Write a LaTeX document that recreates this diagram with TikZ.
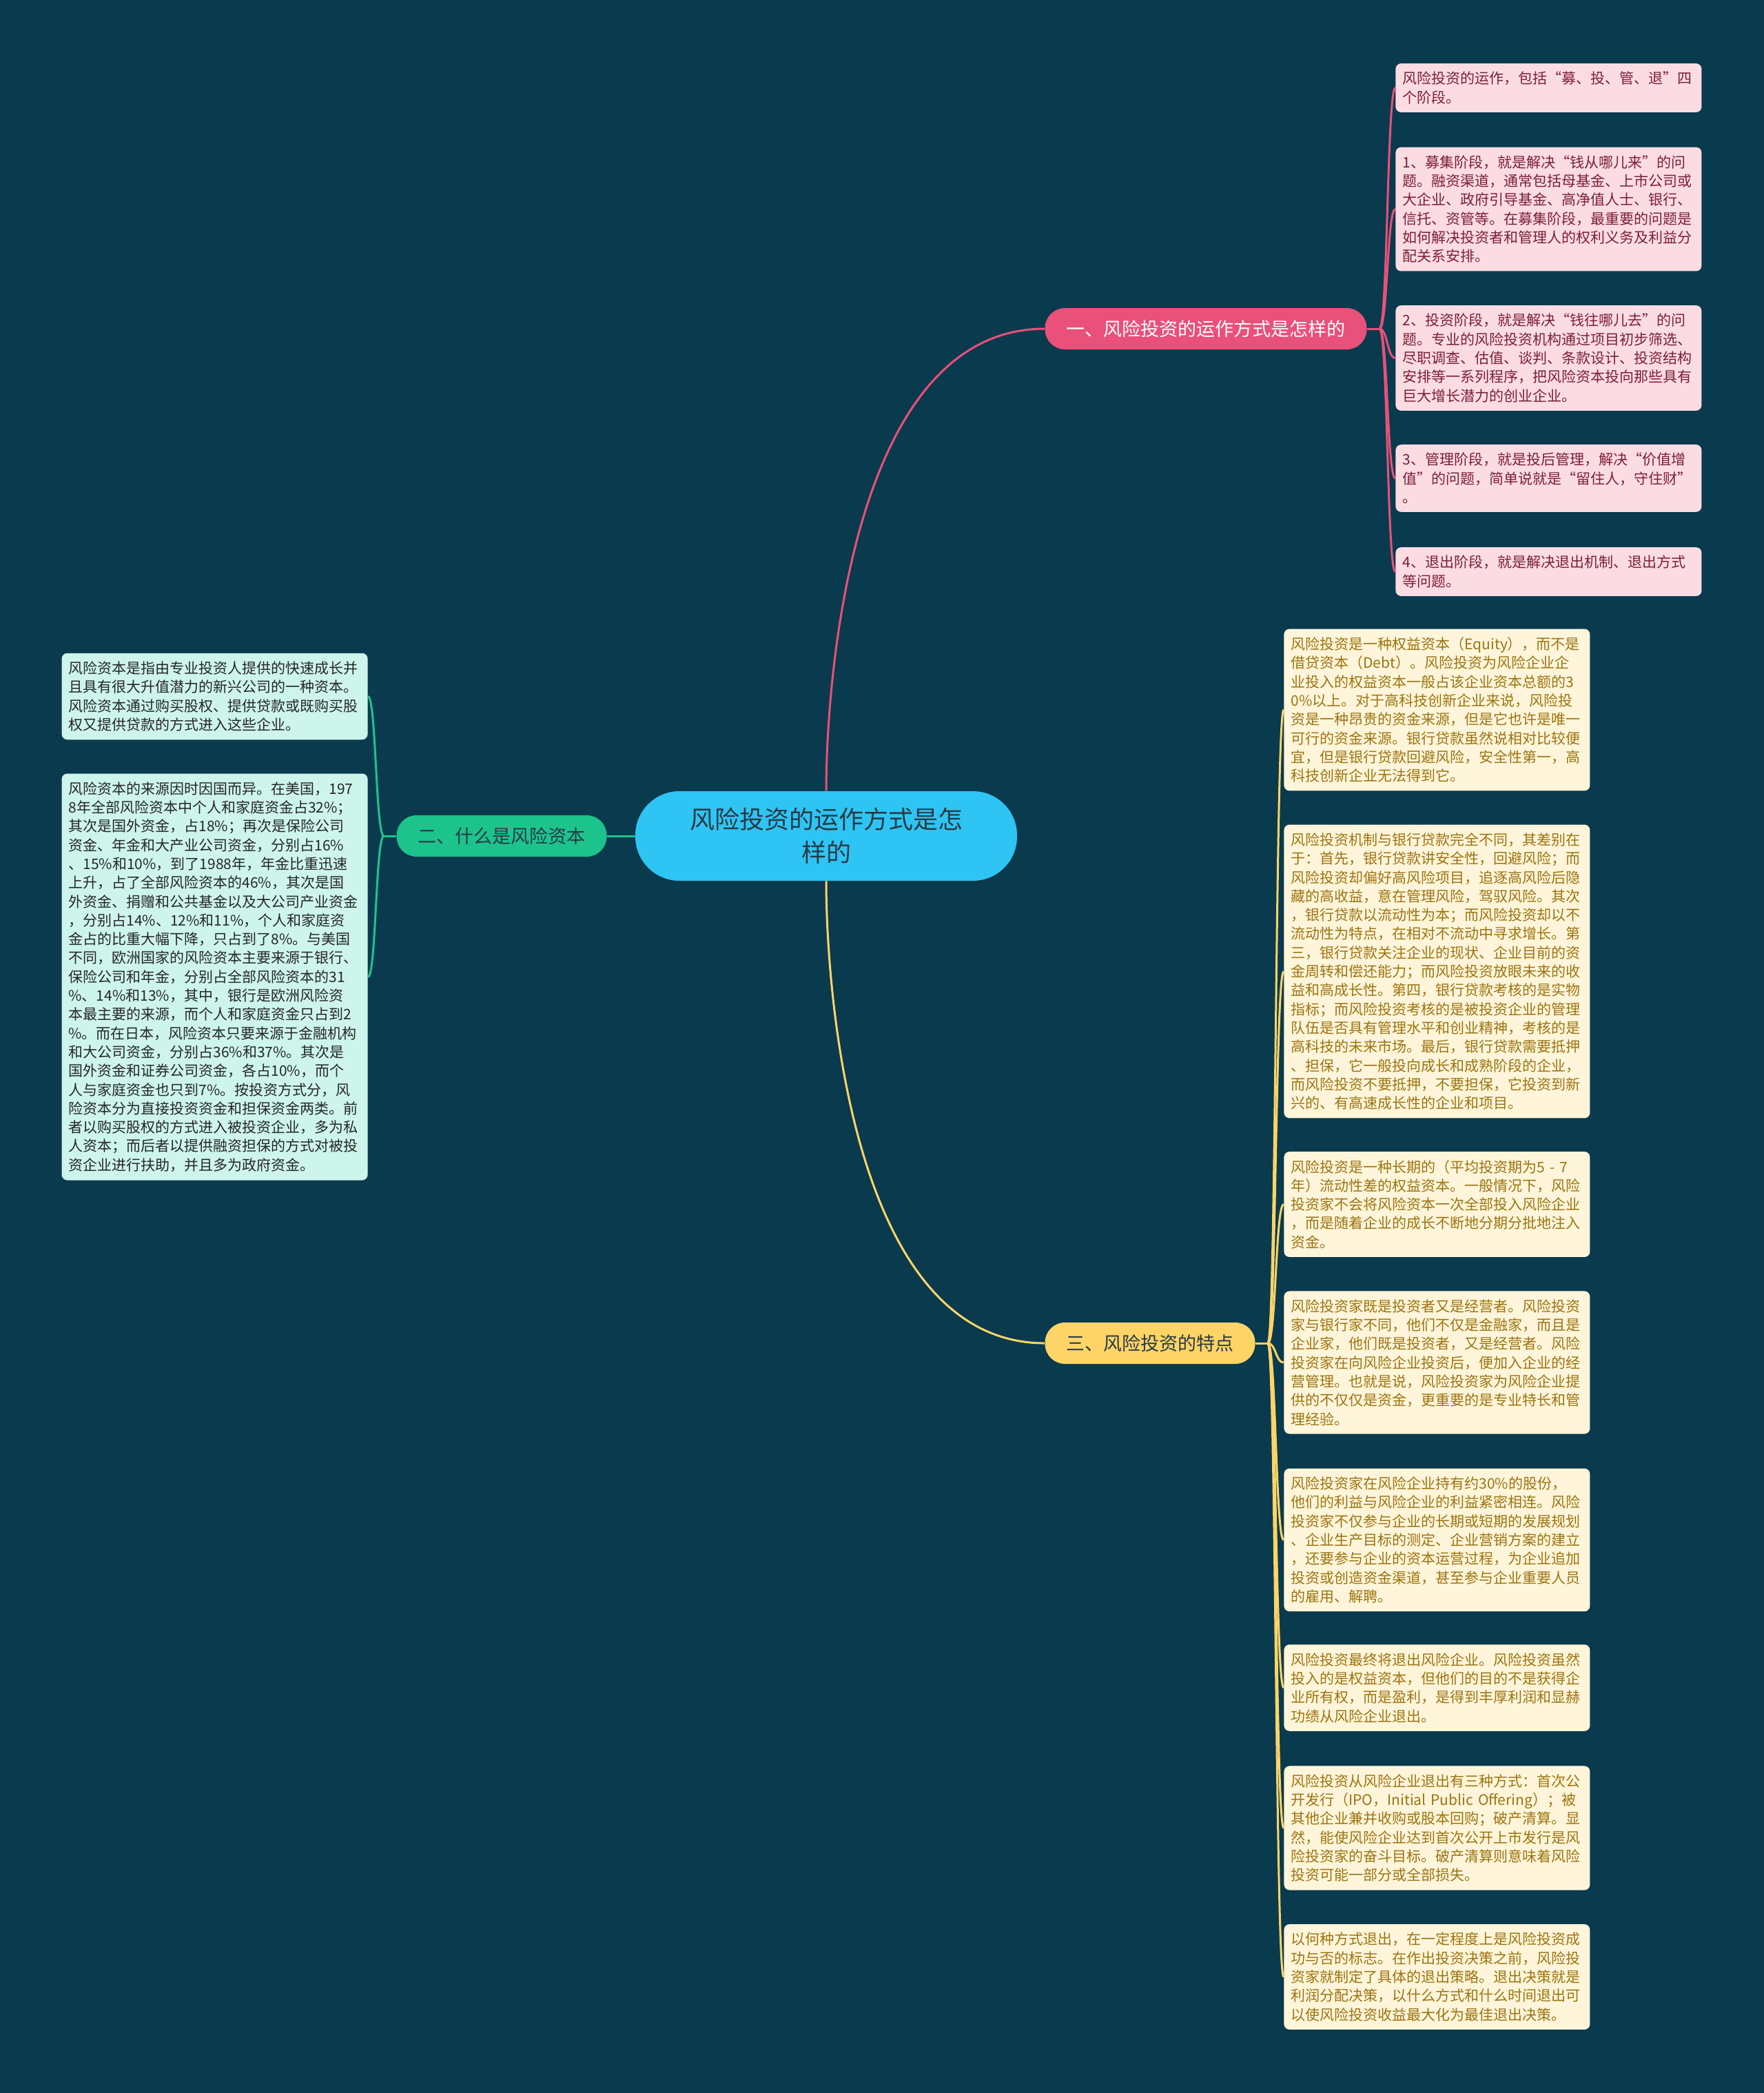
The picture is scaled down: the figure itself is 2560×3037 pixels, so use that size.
\documentclass[tikz,border=0pt]{standalone}
\usepackage{fontspec}
\setmainfont{Noto Sans CJK SC}

\definecolor{bgcol}{HTML}{0A3A4D}
\definecolor{rootblue}{HTML}{2EC4F4}
\definecolor{roottext}{HTML}{263A45}
\definecolor{pinkline}{HTML}{E9507A}
\definecolor{pinkbox}{HTML}{FCDCE3}
\definecolor{pinktext}{HTML}{7B1E3A}
\definecolor{greenline}{HTML}{1CC48C}
\definecolor{greenbox}{HTML}{CDF5EC}
\definecolor{greentext}{HTML}{262626}
\definecolor{yellowline}{HTML}{FFD466}
\definecolor{yellowbox}{HTML}{FFF5DA}
\definecolor{yellowtext}{HTML}{9C7410}

\begin{document}
\begin{tikzpicture}[
  x=0.5pt, y=-0.5pt,
  root/.style={rectangle, rounded corners=32pt, fill=rootblue, text=roottext,
               minimum width=277pt, minimum height=65pt, align=center,
               font=\fontsize{18pt}{24pt}\selectfont},
  topic/.style={rectangle, rounded corners=14.5pt, minimum height=30pt,
                inner xsep=15.5pt, font=\fontsize{13.5pt}{16pt}\selectfont},
  leaf/.style={rectangle, rounded corners=4pt, text width=212pt, inner xsep=5pt,
               inner ysep=6pt, align=left,
               font=\fontsize{10.5pt}{13.65pt}\selectfont},
  pinkleaf/.style={leaf, fill=pinkbox, text=pinktext, anchor=west},
  greenleaf/.style={leaf, fill=greenbox, text=greentext, anchor=east},
  yellowleaf/.style={leaf, fill=yellowbox, text=yellowtext, anchor=west},
  link/.style={line width=1.5pt},
]

\useasboundingbox (0,0) rectangle (2560,3037);
\fill[bgcol] (0,0) rectangle (2560,3037);

% ---- 中心与分支 ----
\node[root] (root) at (1199,1213) {风险投资的运作方式是怎\\样的};

\node[topic, fill=pinkline, text=white]       (b1) at (1750,477)  {一、风险投资的运作方式是怎样的};
\node[topic, fill=greenline, text=roottext]   (b2) at (728,1213)  {二、什么是风险资本};
\node[topic, fill=yellowline, text=roottext]  (b3) at (1669,1949) {三、风险投资的特点};

% ---- 一 ----
\node[pinkleaf] (p1) at (2025,127.5) {风险投资的运作，包括“募、投、管、退”四\\个阶段。};
\node[pinkleaf] (p2) at (2025,303.5) {1、募集阶段，就是解决“钱从哪儿来”的问\\题。融资渠道，通常包括母基金、上市公司或\\大企业、政府引导基金、高净值人士、银行、\\信托、资管等。在募集阶段，最重要的问题是\\如何解决投资者和管理人的权利义务及利益分\\配关系安排。};
\node[pinkleaf] (p3) at (2025,519.5) {2、投资阶段，就是解决“钱往哪儿去”的问\\题。专业的风险投资机构通过项目初步筛选、\\尽职调查、估值、谈判、条款设计、投资结构\\安排等一系列程序，把风险资本投向那些具有\\巨大增长潜力的创业企业。};
\node[pinkleaf] (p4) at (2025,694)   {3、管理阶段，就是投后管理，解决“价值增\\值”的问题，简单说就是“留住人，守住财”\\。};
\node[pinkleaf] (p5) at (2025,829.5) {4、退出阶段，就是解决退出机制、退出方式\\等问题。};

% ---- 二 ----
\node[greenleaf] (g1) at (534,1010.5) {风险资本是指由专业投资人提供的快速成长并\\且具有很大升值潜力的新兴公司的一种资本。\\风险资本通过购买股权、提供贷款或既购买股\\权又提供贷款的方式进入这些企业。};
\node[greenleaf] (g2) at (534,1417.5) {风险资本的来源因时因国而异。在美国，197\\8年全部风险资本中个人和家庭资金占32\%；\\其次是国外资金，占18\%；再次是保险公司\\资金、年金和大产业公司资金，分别占16\%\\、15\%和10\%，到了1988年，年金比重迅速\\上升，占了全部风险资本的46\%，其次是国\\外资金、捐赠和公共基金以及大公司产业资金\\，分别占14\%、12\%和11\%，个人和家庭资\\金占的比重大幅下降，只占到了8\%。与美国\\不同，欧洲国家的风险资本主要来源于银行、\\保险公司和年金，分别占全部风险资本的31\\\%、14\%和13\%，其中，银行是欧洲风险资\\本最主要的来源，而个人和家庭资金只占到2\\\%。而在日本，风险资本只要来源于金融机构\\和大公司资金，分别占36\%和37\%。其次是\\国外资金和证券公司资金，各占10\%，而个\\人与家庭资金也只到7\%。按投资方式分，风\\险资本分为直接投资资金和担保资金两类。前\\者以购买股权的方式进入被投资企业，多为私\\人资本；而后者以提供融资担保的方式对被投\\资企业进行扶助，并且多为政府资金。};

% ---- 三 ----
\node[yellowleaf] (y1) at (1863,1030)   {风险投资是一种权益资本（Equity），而不是\\借贷资本（Debt）。风险投资为风险企业企\\业投入的权益资本一般占该企业资本总额的3\\0\%以上。对于高科技创新企业来说，风险投\\资是一种昂贵的资金来源，但是它也许是唯一\\可行的资金来源。银行贷款虽然说相对比较便\\宜，但是银行贷款回避风险，安全性第一，高\\科技创新企业无法得到它。};
\node[yellowleaf] (y2) at (1863,1409.5) {风险投资机制与银行贷款完全不同，其差别在\\于：首先，银行贷款讲安全性，回避风险；而\\风险投资却偏好高风险项目，追逐高风险后隐\\藏的高收益，意在管理风险，驾驭风险。其次\\，银行贷款以流动性为本；而风险投资却以不\\流动性为特点，在相对不流动中寻求增长。第\\三，银行贷款关注企业的现状、企业目前的资\\金周转和偿还能力；而风险投资放眼未来的收\\益和高成长性。第四，银行贷款考核的是实物\\指标；而风险投资考核的是被投资企业的管理\\队伍是否具有管理水平和创业精神，考核的是\\高科技的未来市场。最后，银行贷款需要抵押\\、担保，它一般投向成长和成熟阶段的企业，\\而风险投资不要抵押，不要担保，它投资到新\\兴的、有高速成长性的企业和项目。};
\node[yellowleaf] (y3) at (1863,1747.5) {风险投资是一种长期的（平均投资期为5 - 7\\年）流动性差的权益资本。一般情况下，风险\\投资家不会将风险资本一次全部投入风险企业\\，而是随着企业的成长不断地分期分批地注入\\资金。};
\node[yellowleaf] (y4) at (1863,1977)   {风险投资家既是投资者又是经营者。风险投资\\家与银行家不同，他们不仅是金融家，而且是\\企业家，他们既是投资者，又是经营者。风险\\投资家在向风险企业投资后，便加入企业的经\\营管理。也就是说，风险投资家为风险企业提\\供的不仅仅是资金，更重要的是专业特长和管\\理经验。};
\node[yellowleaf] (y5) at (1863,2234.5) {风险投资家在风险企业持有约30\%的股份，\\他们的利益与风险企业的利益紧密相连。风险\\投资家不仅参与企业的长期或短期的发展规划\\、企业生产目标的测定、企业营销方案的建立\\，还要参与企业的资本运营过程，为企业追加\\投资或创造资金渠道，甚至参与企业重要人员\\的雇用、解聘。};
\node[yellowleaf] (y6) at (1863,2449)   {风险投资最终将退出风险企业。风险投资虽然\\投入的是权益资本，但他们的目的不是获得企\\业所有权，而是盈利，是得到丰厚利润和显赫\\功绩从风险企业退出。};
\node[yellowleaf] (y7) at (1863,2652.5) {风险投资从风险企业退出有三种方式：首次公\\开发行（IPO，Initial Public Offering）；被\\其他企业兼并收购或股本回购；破产清算。显\\然，能使风险企业达到首次公开上市发行是风\\险投资家的奋斗目标。破产清算则意味着风险\\投资可能一部分或全部损失。};
\node[yellowleaf] (y8) at (1863,2868.5) {以何种方式退出，在一定程度上是风险投资成\\功与否的标志。在作出投资决策之前，风险投\\资家就制定了具体的退出策略。退出决策就是\\利润分配决策，以什么方式和什么时间退出可\\以使风险投资收益最大化为最佳退出决策。};

% ---- 连线 ----
\draw[link, pinkline]   (root.north) .. controls +(0,-148) and +(-284,0) .. (b1.west);
\draw[link, yellowline] (root.south) .. controls +(0,148) and +(-284,0) .. (b3.west);
\draw[link, greenline]  (root.west) -- (b2.east);

\draw[link, pinkline] (b1.east) -- ++(18,0) coordinate (pj);
\foreach \n in {p1,p2,p3,p4,p5}
  \draw[link, pinkline] (pj) .. controls +(12,0) and +(-12,0) .. (\n.west);

\draw[link, greenline] (b2.west) -- ++(-18,0) coordinate (gj);
\foreach \n in {g1,g2}
  \draw[link, greenline] (gj) .. controls +(-12,0) and +(12,0) .. (\n.east);

\draw[link, yellowline] (b3.east) -- ++(18,0) coordinate (yj);
\foreach \n in {y1,y2,y3,y4,y5,y6,y7,y8}
  \draw[link, yellowline] (yj) .. controls +(12,0) and +(-12,0) .. (\n.west);

\end{tikzpicture}
\end{document}
